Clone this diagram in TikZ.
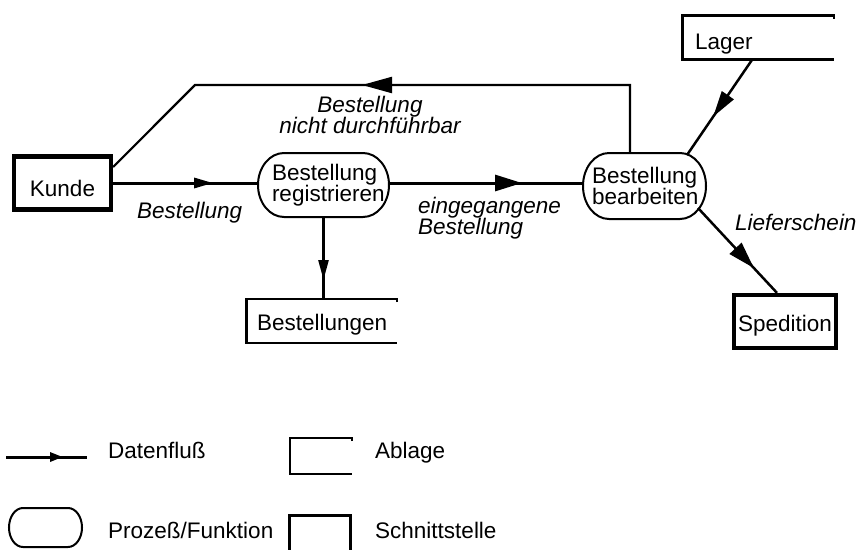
\documentclass[tikz,border=0pt]{standalone}
\usepackage{fontspec}
\setmainfont{Liberation Sans}
\usetikzlibrary{arrows.meta,decorations.markings,calc}
\begin{document}
\begin{tikzpicture}[x=1pt,y=1pt,
  every node/.style={font=\fontsize{22.5}{21}\selectfont},
  lab/.style={font=\fontsize{22.5}{21}\selectfont\itshape, inner sep=0pt},
  leg/.style={inner sep=0pt, anchor=base west},
  iface/.style={draw, rectangle, line width=4.2pt, inner sep=0pt, minimum height=53pt},
  proc/.style={rectangle, inner sep=0pt, outer sep=0pt, align=left},
  procline/.style={line width=2pt},
  abl/.style={rectangle, inner sep=0pt, outer sep=0pt, align=left},
  ablline/.style={line width=2.5pt},
  flow/.style={line width=2.5pt},
  midtip/.style n args={3}{postaction={decorate},
     decoration={markings, mark=at position #1 with {\arrow{Triangle[length=#2,width=#3]}}}}
]
\useasboundingbox (0,0) rectangle (859,-549);

% Schnittstellen
\node[iface, minimum width=97pt] (kunde) at (62.5,-183) {\raisebox{-13pt}[0pt][0pt]{Kunde}};
\node[iface, minimum width=102pt] (sped) at (785,-321.5) {\raisebox{-9.5pt}[0pt][0pt]{Spedition}};

% Prozesse
\node[proc, minimum width=131pt, minimum height=64pt, text width=103pt] (reg) at (323.5,-185)
  {\mbox{Bestellung}\\\mbox{registrieren}};
\node[proc, minimum width=123pt, minimum height=66pt, text width=105pt] (bearb) at (644.5,-186)
  {\mbox{Bestellung}\\\mbox{bearbeiten}};
\node[proc, minimum width=73pt, minimum height=39pt] (legproc) at (45.5,-527.5) {};

\foreach \n/\rx/\ry in {reg/26/32, bearb/26/33, legproc/14/19.5} {
  \draw[procline] ([xshift=\rx pt]\n.north west) -- ([xshift=-\rx pt]\n.north east)
    arc[start angle=90, end angle=-90, x radius=\rx pt, y radius=\ry pt]
    -- ([xshift=\rx pt]\n.south west)
    arc[start angle=270, end angle=90, x radius=\rx pt, y radius=\ry pt] -- cycle;
}

% Ablagen
\node[abl, minimum width=151.5pt, minimum height=44pt, text width=126.5pt] (lager) at (758.25,-37.5)
  {\raisebox{-11.5pt}[0pt][0pt]{Lager}};
\node[abl, minimum width=150.5pt, minimum height=44pt, text width=129.5pt] (best) at (321.75,-321)
  {\raisebox{-9pt}[0pt][0pt]{Bestellungen}};
\node[abl, minimum width=62pt, minimum height=36pt] (legabl) at (321,-456) {};

\foreach \n in {lager,best,legabl} {
  \draw[ablline] ([yshift=-3pt]\n.north east) -- (\n.north east) -- (\n.north west)
    -- (\n.south west) -- (\n.south east);
}

% Datenfluesse
\draw[flow, line width=3pt, midtip={100pt}{19pt}{10pt}] (kunde.east) -- (kunde.east -| reg.west);
\draw[flow, line width=3pt, midtip={133pt}{27pt}{16pt}] ([yshift=2pt]reg.east) -- ([yshift=2pt]reg.east -| bearb.west);
\draw[flow, midtip={63pt}{20pt}{10pt}] (reg.south) -- (reg.south |- best.north);

\coordinate (t1) at (630,-85);
\coordinate (t2) at (195,-85);
\draw[line width=2.2pt, midtip={336pt}{30pt}{16pt}] (bearb.north -| t1) -- (t1) -- (t2) -- ([yshift=16pt]kunde.east);

\draw[flow, midtip={0.6}{26pt}{14pt}] ([xshift=-6pt]lager.south) -- ($(bearb.north east)+(-19pt,-2pt)$);
\draw[flow, midtip={0.71}{27pt}{16pt}] ($(bearb.south east)+(-8pt,11pt)$) -- ([xshift=-8pt]sped.north);

% Beschriftungen
\node[lab, anchor=base west] at (137,-218) {Bestellung};
\node[lab, anchor=north, align=center] at (370,-96) {Bestellung\\nicht durchführbar};
\node[lab, anchor=north west, align=left] at (418,-197) {eingegangene\\Bestellung};
\node[lab, anchor=base west] at (735,-230) {Lieferschein};

% Legende
\coordinate (lf1) at (6,-457);
\coordinate (lf2) at (87,-457);
\draw[flow, line width=3pt, midtip={57pt}{13pt}{9pt}] (lf1) -- (lf2);
\node[rectangle, inner sep=0pt, minimum width=60pt, minimum height=40pt] (legiface) at (320,-536) {};
\draw[line width=2.7pt] (legiface.south west) -- (legiface.north west) -- (legiface.north east) -- (legiface.south east);

\node[leg] at (108,-458) {Datenfluß};
\node[leg] at (375,-458) {Ablage};
\node[leg] at (108,-538) {Prozeß/Funktion};
\node[leg] at (375,-538) {Schnittstelle};
\end{tikzpicture}
\end{document}
